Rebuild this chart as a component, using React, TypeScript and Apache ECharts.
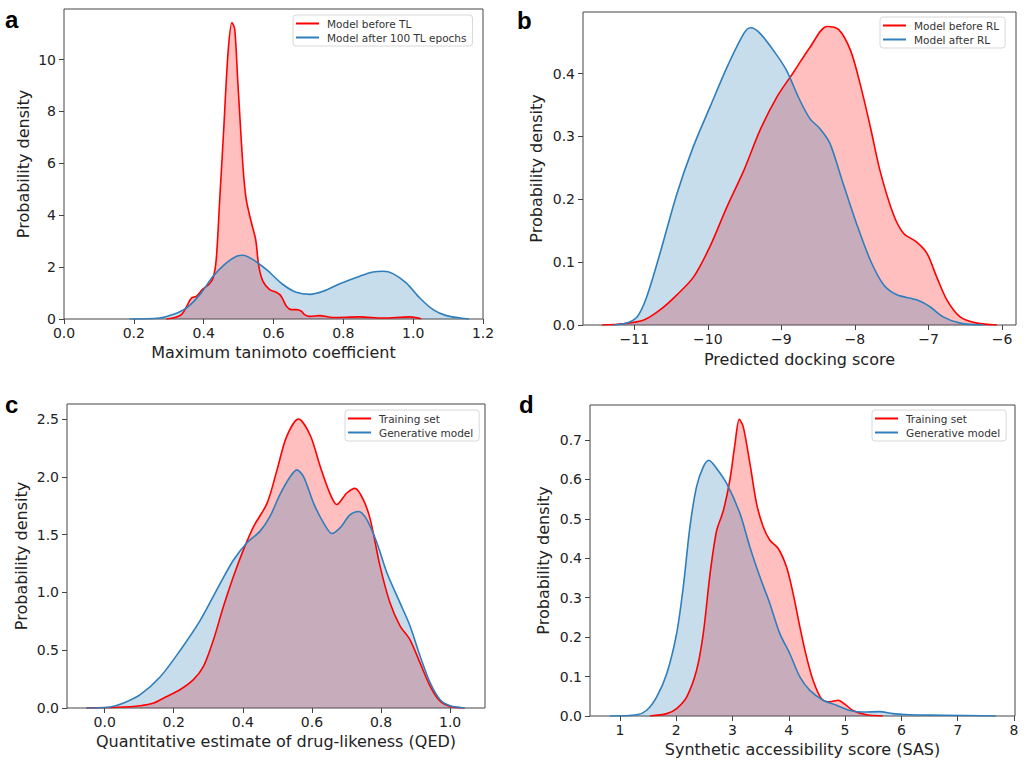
import React, { useEffect, useRef } from "react";
import * as echarts from "echarts";

// ---------- Panel a: Maximum tanimoto coefficient ----------
const aBeforeX = [0.293,0.336,0.365,0.379,0.398,0.415,0.427,0.436,0.446,0.457,0.470,0.481,0.489,0.498,0.513,0.522,0.537,0.549,0.558,0.570,0.589,0.608,0.622,0.637,0.651,0.665,0.680,0.689,0.704,0.732,0.770,0.847,0.914,0.990,1.023];
const aBeforeY = [0,0.17,0.81,0.87,1.16,1.33,1.58,2.3,4.6,7.2,10.3,11.43,11.17,9.1,5.8,4.6,3.7,3.06,2.03,1.45,1.13,1.03,0.88,0.49,0.36,0.36,0.3,0.17,0.1,0.13,0.06,0.08,0.04,0.08,0.01];
const aAfterX = [0.188,0.274,0.312,0.350,0.389,0.427,0.465,0.494,0.513,0.541,0.580,0.627,0.665,0.704,0.742,0.790,0.847,0.885,0.914,0.942,0.980,1.019,1.057,1.095,1.152,1.160];
const aAfterY = [0,0.04,0.17,0.42,0.94,1.65,2.16,2.42,2.46,2.29,1.9,1.33,1.03,0.95,1.07,1.36,1.65,1.81,1.84,1.75,1.39,0.81,0.36,0.13,0.01,0];
const aXTicks = [0,0.2,0.4,0.6,0.8,1.0,1.2];
const aYTicks = [0,2,4,6,8,10];

// ---------- Panel b: Predicted docking score ----------
const bBeforeX = [-11.44,-11.145,-10.87,-10.65,-10.42,-10.19,-9.97,-9.74,-9.51,-9.29,-9.06,-8.83,-8.61,-8.38,-8.22,-8.06,-7.93,-7.79,-7.66,-7.48,-7.34,-7.16,-7.02,-6.89,-6.75,-6.57,-6.34,-6.07];
const bBeforeY = [0,0.002,0.008,0.024,0.048,0.077,0.125,0.188,0.246,0.31,0.363,0.403,0.442,0.475,0.47,0.437,0.384,0.315,0.246,0.177,0.146,0.132,0.114,0.077,0.04,0.013,0.003,0];
const bAfterX = [-11.28,-11.1,-10.96,-10.83,-10.65,-10.42,-10.2,-9.97,-9.74,-9.51,-9.42,-9.29,-9.06,-8.93,-8.75,-8.61,-8.48,-8.34,-8.16,-7.98,-7.79,-7.61,-7.43,-7.16,-6.98,-6.8,-6.57,-6.25];
const bAfterY = [0,0.003,0.013,0.045,0.114,0.209,0.283,0.347,0.41,0.464,0.473,0.464,0.429,0.405,0.358,0.328,0.313,0.289,0.225,0.162,0.103,0.064,0.048,0.04,0.029,0.013,0.003,0];
const bXTicks = [-11,-10,-9,-8,-7,-6];
const bYTicks = [0,0.1,0.2,0.3,0.4];

// ---------- Panel c: QED ----------
const cTrainX = [-0.053,0.036,0.103,0.142,0.18,0.219,0.257,0.286,0.315,0.344,0.373,0.402,0.431,0.47,0.499,0.527,0.561,0.595,0.624,0.653,0.672,0.701,0.725,0.749,0.769,0.797,0.826,0.855,0.884,0.913,0.942,0.971,1.0,1.039];
const cTrainY = [0,0.006,0.02,0.043,0.1,0.16,0.245,0.36,0.59,0.88,1.14,1.37,1.57,1.77,2.06,2.35,2.5,2.36,2.09,1.85,1.76,1.86,1.9,1.8,1.63,1.23,0.91,0.71,0.59,0.39,0.19,0.058,0.014,0];
const cGenX = [-0.053,0.016,0.055,0.103,0.161,0.219,0.277,0.335,0.373,0.412,0.45,0.479,0.508,0.537,0.556,0.576,0.605,0.634,0.658,0.682,0.71,0.735,0.759,0.788,0.817,0.855,0.884,0.913,0.942,0.971,1.0,1.043];
const cGenY = [0,0.009,0.043,0.115,0.27,0.5,0.76,1.08,1.28,1.43,1.53,1.66,1.85,2.0,2.06,2.0,1.77,1.6,1.51,1.56,1.67,1.7,1.63,1.43,1.17,0.91,0.71,0.45,0.22,0.072,0.02,0];
const cXTicks = [0,0.2,0.4,0.6,0.8,1.0];
const cYTicks = [0,0.5,1.0,1.5,2.0,2.5];

// ---------- Panel d: SAS ----------
const dTrainX = [1.533,1.83,2.006,2.184,2.361,2.48,2.6,2.717,2.835,2.954,3.043,3.12,3.19,3.31,3.427,3.545,3.664,3.812,3.96,4.078,4.197,4.315,4.433,4.581,4.73,4.878,4.996,5.14,5.38,5.67];
const dTrainY = [0,0.006,0.019,0.048,0.116,0.209,0.36,0.47,0.52,0.6,0.69,0.753,0.734,0.64,0.539,0.48,0.446,0.425,0.378,0.31,0.226,0.15,0.09,0.044,0.036,0.04,0.03,0.014,0.003,0];
const dGenX = [0.822,1.296,1.47,1.65,1.83,2.006,2.125,2.243,2.361,2.48,2.58,2.717,2.895,3.131,3.308,3.486,3.664,3.841,4.019,4.197,4.374,4.611,4.848,5.085,5.32,5.616,5.85,6.14,6.74,7.68];
const dGenY = [0,0.003,0.014,0.048,0.107,0.209,0.328,0.48,0.582,0.632,0.649,0.628,0.59,0.514,0.429,0.353,0.285,0.209,0.158,0.099,0.065,0.04,0.027,0.014,0.01,0.011,0.006,0.003,0.002,0];
const dXTicks = [1,2,3,4,5,6,7,8];
const dYTicks = [0,0.1,0.2,0.3,0.4,0.5,0.6,0.7];

const RED = "#ff0000";
const BLUE = "#2f7ebc";
const FONT = "DejaVu Sans";

const zip = (xs: number[], ys: number[]) => xs.map((x, i) => [x, ys[i]]);
const minus = (s: string) => s.replace("-", "\u2212");

function kde(name: string, color: string, fill: string, idx: number, xs: number[], ys: number[]) {
  return {
    type: "line",
    name,
    xAxisIndex: idx,
    yAxisIndex: idx,
    data: zip(xs, ys),
    smooth: 0.3,
    showSymbol: false,
    symbol: "none",
    color,
    lineStyle: { color, width: 1.6 },
    areaStyle: { color: fill, opacity: 1 },
    silent: true,
  };
}

function xAx(idx: number, min: number, max: number, ticks: number[], fmt: (v: number) => string, name: string, gap: number) {
  return {
    type: "value",
    gridIndex: idx,
    position: "bottom",
    min,
    max,
    name,
    nameLocation: "middle",
    nameGap: gap,
    nameTextStyle: { fontFamily: FONT, fontSize: 16, color: "#222" },
    axisLine: { show: false, onZero: false },
    splitLine: { show: false },
    axisTick: { show: true, customValues: ticks, length: 5, lineStyle: { color: "#444" } },
    axisLabel: { customValues: ticks, formatter: (v: number) => fmt(v), fontFamily: FONT, fontSize: 14, color: "#222", margin: 7 },
  };
}

function yAx(idx: number, max: number, ticks: number[], fmt: (v: number) => string, gap: number) {
  return {
    type: "value",
    gridIndex: idx,
    position: "left",
    min: 0,
    max,
    name: "Probability density",
    nameLocation: "middle",
    nameGap: gap,
    nameTextStyle: { fontFamily: FONT, fontSize: 16, color: "#222" },
    axisLine: { show: false, onZero: false },
    splitLine: { show: false },
    axisTick: { show: true, customValues: ticks, length: 5, lineStyle: { color: "#444" } },
    axisLabel: { customValues: ticks, formatter: (v: number) => fmt(v), fontFamily: FONT, fontSize: 14, color: "#222", margin: 8 },
  };
}

function legend(names: string[], left: number, top: number) {
  return {
    orient: "vertical",
    left,
    top,
    data: names,
    icon: "rect",
    itemWidth: 23,
    itemHeight: 2,
    itemGap: 3,
    padding: [3, 6, 3, 3],
    backgroundColor: "rgba(255,255,255,0.85)",
    borderColor: "#d8d8d8",
    borderWidth: 1,
    borderRadius: 3,
    selectedMode: false,
    textStyle: { fontFamily: FONT, fontSize: 10.5, color: "#333", padding: [0, 0, 0, 3] },
  };
}

function grid(left: number, top: number, width: number, height: number) {
  return { left, top, width, height, show: true, borderColor: "#444", borderWidth: 1, backgroundColor: "transparent", containLabel: false };
}

function letter(t: string, x: number, y: number) {
  return {
    type: "text",
    x,
    y,
    style: { text: t, font: 'bold 24px "Liberation Sans"', fill: "#000", verticalAlign: "middle", align: "left" },
  };
}

export default function App() {
  const ref = useRef<HTMLDivElement>(null);
  useEffect(() => {
    if (!ref.current) return;
    const chart = echarts.init(ref.current, undefined, { renderer: "svg" });
    const f1 = (v: number) => v.toFixed(1);
    const f0 = (v: number) => minus(String(Math.round(v)));
    chart.setOption({
      animation: false,
      backgroundColor: "#fff",
      grid: [
        grid(64, 9, 419, 310),
        grid(583, 12, 433, 313),
        grid(67, 404, 418, 304),
        grid(590, 405, 425, 311),
      ],
      xAxis: [
        xAx(0, 0, 1.2, aXTicks, f1, "Maximum tanimoto coefficient", 25),
        xAx(1, -11.697, -5.81, bXTicks, f0, "Predicted docking score", 26),
        xAx(2, -0.109, 1.101, cXTicks, f1, "Quantitative estimate of drug-likeness (QED)", 25),
        xAx(3, 0.467, 8.02, dXTicks, f0, "Synthetic accessibility score (SAS)", 25),
      ],
      yAxis: [
        yAx(0, 11.95, aYTicks, f0, 33),
        yAx(1, 0.498, bYTicks, f1, 39),
        yAx(2, 2.63, cYTicks, f1, 38),
        yAx(3, 0.789, dYTicks, f1, 39),
      ],
      legend: [
        legend(["Model before TL", "Model after 100 TL epochs"], 293, 15),
        legend(["Model before RL", "Model after RL"], 880, 17),
        legend(["Training set", "Generative model"], 345, 410),
        legend(["Training set", "Generative model"], 872, 410),
      ],
      series: [
        kde("Model before TL", RED, "rgba(255,0,0,0.25)", 0, aBeforeX, aBeforeY),
        kde("Model after 100 TL epochs", BLUE, "rgba(31,119,180,0.25)", 0, aAfterX, aAfterY),
        kde("Model before RL", RED, "rgba(255,0,0,0.25)", 1, bBeforeX, bBeforeY),
        kde("Model after RL", BLUE, "rgba(31,119,180,0.25)", 1, bAfterX, bAfterY),
        kde("Training set", RED, "rgba(255,0,0,0.25)", 2, cTrainX, cTrainY),
        kde("Generative model", BLUE, "rgba(31,119,180,0.25)", 2, cGenX, cGenY),
        kde("Training set", RED, "rgba(255,0,0,0.25)", 3, dTrainX, dTrainY),
        kde("Generative model", BLUE, "rgba(31,119,180,0.25)", 3, dGenX, dGenY),
      ],
      graphic: [
        letter("a", 5, 19),
        letter("b", 517, 20),
        letter("c", 5, 404),
        letter("d", 519, 404),
      ],
    });
    return () => chart.dispose();
  }, []);
  return <div ref={ref} style={{ position: "fixed", left: 0, top: 0, width: 1029, height: 766 }} />;
}
